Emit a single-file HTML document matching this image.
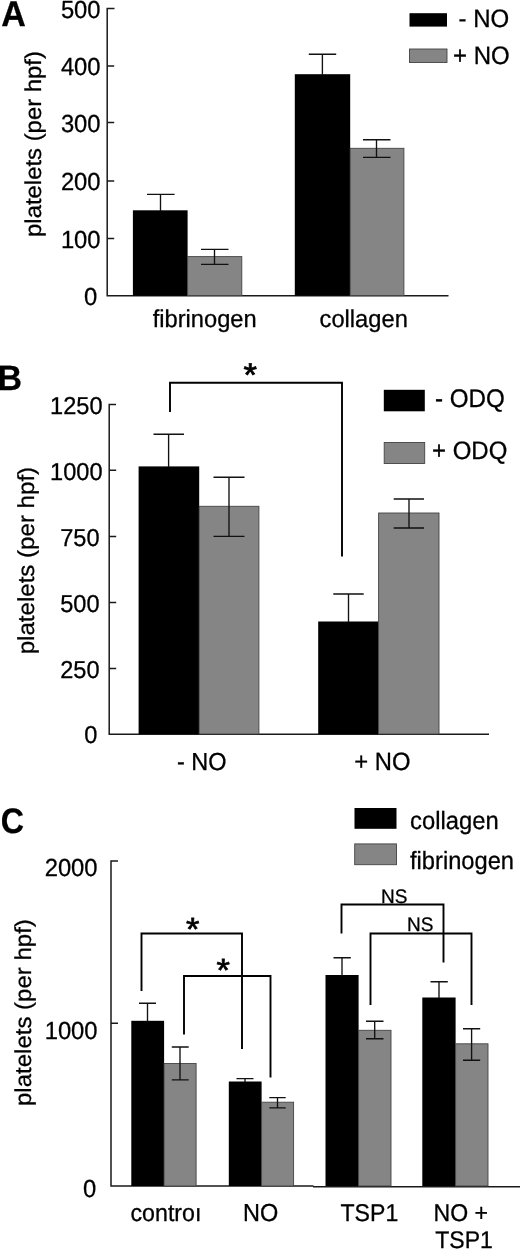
<!DOCTYPE html>
<html><head><meta charset="utf-8">
<style>
html,body{margin:0;padding:0;background:#fff;}
body{width:520px;height:1250px;overflow:hidden;}
svg{display:block;will-change:transform;filter:grayscale(1);}
text{font-family:"Liberation Sans",sans-serif;fill:#000;text-rendering:geometricPrecision;stroke:#000;stroke-width:0.28px;}
.ax{stroke:#1a1a1a;stroke-width:1.5;fill:none;}
.eb{stroke:#111;stroke-width:1.35;fill:none;}
.br{stroke:#000;stroke-width:1.9;fill:none;}
.kb{fill:#000;}
.gb{fill:#858585;stroke:#444;stroke-width:0.9;}
</style></head><body>
<svg width="520" height="1250" viewBox="0 0 520 1250">
<rect width="520" height="1250" fill="#fff"/>
<text transform="translate(1.20,25.70) scale(1.0000,1.0470)" font-size="34" font-weight="bold">A</text>
<text transform="translate(40.60,144.00) rotate(-90) scale(1.0000,0.9600)" font-size="23.9" text-anchor="middle">platelets (per hpf)</text>
<text transform="translate(100.60,17.70) scale(1.0000,1.0400)" font-size="23.8" text-anchor="end">500</text>
<text transform="translate(100.60,74.70) scale(1.0000,1.0400)" font-size="23.8" text-anchor="end">400</text>
<text transform="translate(100.60,131.70) scale(1.0000,1.0400)" font-size="23.8" text-anchor="end">300</text>
<text transform="translate(100.60,190.20) scale(1.0000,1.0400)" font-size="23.8" text-anchor="end">200</text>
<text transform="translate(100.60,247.70) scale(1.0000,1.0400)" font-size="23.8" text-anchor="end">100</text>
<text transform="translate(97.30,304.70) scale(1.0000,1.0400)" font-size="23.8" text-anchor="end">0</text>
<path class="ax" d="M114.5 8.5H107.2V295.7H448.5 M107.2 65.9h7 M107.2 122.5h7 M107.2 181h7 M107.2 238.5h7"/>
<rect class="kb" x="132.9" y="210.3" width="54.7" height="85.4"/>
<rect class="gb" x="187.6" y="256.6" width="54.2" height="39"/>
<rect class="kb" x="294.8" y="74.2" width="55.4" height="221.4"/>
<rect class="gb" x="350.2" y="148.3" width="53.7" height="147.3"/>
<path class="eb" d="M160.5 211V194.3 M147 194.3H174.6"/>
<path class="eb" d="M214.5 249.3V264.3 M201 249.3H228.5 M201 264.3H228.5"/>
<path class="eb" d="M322.4 75V54.2 M308.8 54.2H336.2"/>
<path class="eb" d="M376.5 139.7V157.3 M363 139.7H390.5 M363 157.3H390.5"/>
<rect class="kb" x="409.5" y="13.2" width="37.5" height="13.4"/>
<rect class="gb" x="409.5" y="49" width="37.5" height="13.5"/>
<text transform="translate(458.50,27.20) scale(1.0000,1.0500)" font-size="24">- NO</text>
<text transform="translate(453.00,64.00) scale(1.0000,1.0500)" font-size="24">+ NO</text>
<text transform="translate(204.70,327.30) scale(1.0000,1.0300)" font-size="23.7" text-anchor="middle">fibrinogen</text>
<text transform="translate(363.70,327.30) scale(1.0000,1.0300)" font-size="23.7" text-anchor="middle">collagen</text>
<text transform="translate(-2.50,390.00) scale(1.0000,1.0350)" font-size="34" font-weight="bold">B</text>
<text transform="translate(33.50,560.60) rotate(-90) scale(1.0000,0.9600)" font-size="24.1" text-anchor="middle">platelets (per hpf)</text>
<text transform="translate(102.60,413.70) scale(1.0000,1.0400)" font-size="23.6" text-anchor="end">1250</text>
<text transform="translate(102.60,479.60) scale(1.0000,1.0400)" font-size="23.6" text-anchor="end">1000</text>
<text transform="translate(99.60,546.00) scale(1.0000,1.0400)" font-size="23.6" text-anchor="end">750</text>
<text transform="translate(99.60,611.90) scale(1.0000,1.0400)" font-size="23.6" text-anchor="end">500</text>
<text transform="translate(99.60,678.00) scale(1.0000,1.0400)" font-size="23.6" text-anchor="end">250</text>
<text transform="translate(97.30,743.40) scale(1.0000,1.0400)" font-size="23.6" text-anchor="end">0</text>
<path class="ax" d="M116 404.4H109.2V734.2H489 M109.2 470.2h7 M109.2 536.6h7 M109.2 602.5h7 M109.2 668.6h7"/>
<rect class="kb" x="138.6" y="466.4" width="60.6" height="267.6"/>
<rect class="gb" x="199.2" y="506.3" width="59.7" height="227.7"/>
<rect class="kb" x="318.2" y="621.5" width="60.4" height="112.5"/>
<rect class="gb" x="378.6" y="513" width="60.4" height="221"/>
<path class="eb" d="M168.6 467V434.2 M153.5 434.2H184"/>
<path class="eb" d="M229 477.2V536.4 M213.5 477.2H244.5 M213.5 536.4H244.5"/>
<path class="eb" d="M348.5 622V594 M333.3 594H363.7"/>
<path class="eb" d="M409 499V528 M393.7 499H424 M393.7 528H424"/>
<path class="br" d="M170 412V382.8H342V556.5"/>
<text transform="translate(250.20,386.30) scale(1.0000,0.9500)" font-size="34.5" text-anchor="middle" style="stroke-width:0.8px">*</text>
<rect class="kb" x="383.8" y="389.8" width="41" height="21.5"/>
<rect class="gb" x="384.2" y="442.5" width="40.5" height="21"/>
<text transform="translate(435.00,407.00) scale(1.0000,1.0500)" font-size="24.2">- ODQ</text>
<text transform="translate(432.00,458.50) scale(1.0000,1.0500)" font-size="24">+ ODQ</text>
<text transform="translate(201.70,770.00) scale(1.0000,1.0500)" font-size="23.5" text-anchor="middle">- NO</text>
<text transform="translate(382.30,770.00) scale(1.0000,1.0500)" font-size="23.8" text-anchor="middle">+ NO</text>
<text transform="translate(0.80,833.30) scale(0.9450,1.0400)" font-size="34" font-weight="bold">C</text>
<text transform="translate(30.60,1012.60) rotate(-90) scale(1.0000,0.9600)" font-size="24.0" text-anchor="middle">platelets (per hpf)</text>
<text transform="translate(97.60,876.00) scale(1.0000,1.0400)" font-size="23.8" text-anchor="end">2000</text>
<text transform="translate(97.60,1038.60) scale(1.0000,1.0400)" font-size="23.8" text-anchor="end">1000</text>
<text transform="translate(96.30,1196.90) scale(1.0000,1.0400)" font-size="23.8" text-anchor="end">0</text>
<path class="ax" d="M118 861H111V1186.1 M111 1023.2h7 M110.3 1186.1H313.5 M313 1186.8H520"/>
<rect class="kb" x="131.3" y="1020.8" width="32.8" height="165.2"/>
<rect class="gb" x="164.1" y="1063.5" width="32" height="122.5"/>
<rect class="kb" x="228.8" y="1081.5" width="32.8" height="104.5"/>
<rect class="gb" x="261.6" y="1102.2" width="32" height="83.8"/>
<rect class="kb" x="325.5" y="975" width="33.1" height="211"/>
<rect class="gb" x="358.6" y="1030.3" width="32.4" height="155.7"/>
<rect class="kb" x="422.3" y="997.5" width="33.3" height="188.5"/>
<rect class="gb" x="455.6" y="1043.8" width="32.4" height="142.2"/>
<path class="eb" d="M147.5 1022V1003.2 M139 1003.2H156"/>
<path class="eb" d="M180 1047V1079.8 M171.8 1047H188.7 M171.8 1079.8H188.7"/>
<path class="eb" d="M245 1082V1078.6 M236.5 1078.6H253.5"/>
<path class="eb" d="M277.5 1097.6V1107.8 M269.3 1097.6H285.7 M269.3 1107.8H285.7"/>
<path class="eb" d="M342 976V957.7 M333.5 957.7H350.8"/>
<path class="eb" d="M374.7 1021.2V1038.7 M366 1021.2H383.5 M366 1038.7H383.5"/>
<path class="eb" d="M439 998.5V981.7 M430.5 981.7H447.8"/>
<path class="eb" d="M471.6 1028.7V1060.2 M463 1028.7H480.2 M463 1060.2H480.2"/>
<path class="br" d="M141.5 991V933.5H242V1049"/>
<path class="br" d="M184 1034.5V976H270.5V1077.5"/>
<path class="br" d="M341.5 933.5V904.5H443.5V962.5"/>
<path class="br" d="M370.5 1005V933.5H471.5V1005"/>
<text transform="translate(192.80,939.64) scale(1.0000,0.9300)" font-size="34.5" text-anchor="middle" style="stroke-width:0.8px">*</text>
<text transform="translate(223.30,980.54) scale(1.0000,0.9300)" font-size="34.5" text-anchor="middle" style="stroke-width:0.8px">*</text>
<text transform="translate(394.30,902.50) scale(1.0000,1.0300)" font-size="19" text-anchor="middle">NS</text>
<text transform="translate(420.30,931.00) scale(1.0000,1.0300)" font-size="19" text-anchor="middle">NS</text>
<rect class="kb" x="354.5" y="808" width="42" height="20.8"/>
<rect class="gb" x="354.7" y="843.9" width="41.8" height="20.8"/>
<text transform="translate(410.00,829.40) scale(1.0000,1.0500)" font-size="23.8">collagen</text>
<text transform="translate(410.00,868.60) scale(1.0000,1.0500)" font-size="23.7">fibrinogen</text>
<text transform="translate(130.50,1220.70) scale(1.0000,1.0400)" font-size="23.2">contro&#305;</text>
<text transform="translate(243.00,1220.70) scale(1.0000,1.0500)" font-size="23.5">NO</text>
<text transform="translate(340.50,1220.70) scale(1.0000,1.0500)" font-size="23.1">TSP1</text>
<text transform="translate(433.50,1220.70) scale(1.0000,1.0500)" font-size="23.1">NO +</text>
<text transform="translate(435.30,1248.00) scale(1.0000,1.0500)" font-size="23">TSP1</text>
</svg>
</body></html>
